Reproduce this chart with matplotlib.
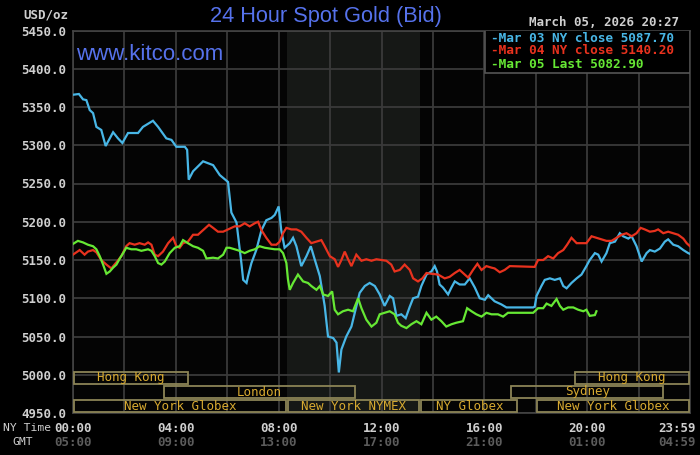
import matplotlib
matplotlib.use("Agg")
import matplotlib.pyplot as plt
from matplotlib.patches import Rectangle
import matplotlib.transforms as mtransforms

# ---------------- data ----------------
mar03_hours = [0.0, 0.23, 0.39, 0.52, 0.65, 0.78, 0.91, 1.10, 1.27, 1.56, 1.75, 1.92, 2.14, 2.53, 2.72,
               3.11, 3.31, 3.63, 3.83, 4.02, 4.35, 4.44, 4.50, 4.67, 5.06, 5.45, 5.71, 6.03,
               6.16, 6.36, 6.55, 6.62, 6.75, 6.81, 6.94, 7.13, 7.33, 7.52, 7.72, 7.85, 8.00, 8.10,
               8.23, 8.43, 8.56, 8.69, 8.88, 9.08, 9.25, 9.40, 9.60, 9.79, 9.92, 10.12, 10.25, 10.34,
               10.44, 10.63, 10.83, 10.96, 11.15, 11.35, 11.54, 11.74, 11.93,
               12.12, 12.32, 12.45, 12.58, 12.77, 12.94, 13.10, 13.23, 13.42, 13.55, 13.75, 13.94,
               14.07, 14.16, 14.26, 14.39, 14.59, 14.72, 14.85, 15.04, 15.24, 15.43, 15.63, 15.82,
               16.02, 16.15, 16.40, 16.66, 16.86, 17.90,
               17.96, 18.03, 18.22, 18.35, 18.55, 18.74, 18.94, 19.07, 19.20, 19.39, 19.59, 19.78,
               19.97, 20.10, 20.30, 20.43, 20.56, 20.75, 20.88, 21.08, 21.27, 21.40, 21.60, 21.73,
               21.92, 22.12, 22.31, 22.44, 22.63, 22.83, 23.02, 23.15, 23.35, 23.54, 23.74, 23.93, 24.0]
mar03_price = [5366, 5367, 5360, 5359, 5346, 5342, 5324, 5320, 5299, 5317, 5309, 5303, 5316, 5316, 5324,
               5332, 5324, 5309, 5307, 5298, 5298, 5294, 5255, 5266, 5279, 5274, 5261, 5252,
               5212, 5199, 5146, 5124, 5120, 5129, 5146, 5163, 5189, 5202, 5205, 5209, 5220, 5189,
               5166, 5172, 5179, 5168, 5142, 5155, 5168, 5151, 5129, 5090, 5050, 5048, 5042, 5003,
               5033, 5050, 5063, 5081, 5107, 5116, 5120, 5116, 5105,
               5090, 5103, 5100, 5077, 5079, 5074, 5089, 5100, 5102, 5116, 5131, 5135,
               5142, 5135, 5118, 5114, 5105, 5114, 5122, 5118, 5118, 5126, 5114, 5100,
               5098, 5104, 5096, 5092, 5088, 5088,
               5089, 5103, 5116, 5124, 5126, 5124, 5126, 5116, 5113, 5120, 5126, 5131,
               5142, 5150, 5159, 5157, 5148, 5159, 5172, 5174, 5185, 5181, 5178, 5181,
               5168, 5148, 5159, 5163, 5161, 5165, 5174, 5177, 5170, 5168, 5163, 5159, 5158]

mar04_hours = [0.0, 0.13, 0.26, 0.45, 0.58, 0.78, 0.91, 1.10, 1.30, 1.49, 1.69, 1.88, 2.07, 2.20, 2.40,
               2.59, 2.79, 2.92, 3.05, 3.18, 3.31, 3.50, 3.70, 3.89, 4.02, 4.15, 4.28, 4.47, 4.67,
               4.86, 5.06, 5.29, 5.45, 5.64, 5.84, 6.03,
               6.29, 6.48, 6.68, 6.87, 7.07, 7.20, 7.33, 7.52, 7.72, 7.91, 8.04, 8.17, 8.30, 8.49,
               8.69, 8.88, 9.08, 9.27, 9.47, 9.66, 9.79, 9.99, 10.18, 10.31, 10.44, 10.57, 10.70,
               10.83, 11.02, 11.22, 11.41, 11.61, 11.80, 12.00,
               12.19, 12.38, 12.51, 12.71, 12.90, 13.10, 13.23, 13.42, 13.59, 13.75, 13.94, 14.20,
               14.46, 14.65, 14.85, 15.04, 15.24, 15.37, 15.56, 15.73, 15.89, 16.08, 16.28, 16.40,
               16.60, 16.79, 16.99, 17.96,
               18.09, 18.29, 18.48, 18.68, 18.87, 19.07, 19.22, 19.39, 19.59, 19.78, 19.97, 20.17,
               20.36, 20.56, 20.75, 20.95, 21.14, 21.34, 21.53, 21.73, 21.92, 22.08, 22.24, 22.44,
               22.63, 22.76, 22.96, 23.15, 23.35, 23.54, 23.74, 23.87, 24.0]
mar04_price = [5157, 5160, 5163, 5157, 5161, 5163, 5160, 5150, 5144, 5139, 5147, 5155, 5168, 5172, 5170,
               5172, 5170, 5173, 5170, 5157, 5155, 5161, 5172, 5179, 5168, 5166, 5172, 5174, 5183,
               5183, 5189, 5196, 5192, 5187, 5187, 5190,
               5194, 5194, 5198, 5194, 5198, 5200, 5189, 5179, 5170, 5170, 5174, 5185, 5192, 5190,
               5190, 5187, 5179, 5172, 5174, 5176, 5168, 5155, 5151, 5141, 5150, 5161, 5151,
               5142, 5157, 5149, 5151, 5149, 5151, 5150,
               5149, 5144, 5135, 5137, 5144, 5137, 5126, 5122, 5126, 5133, 5132, 5131,
               5126, 5128, 5133, 5137, 5131, 5127, 5137, 5145, 5137, 5142, 5140, 5139,
               5134, 5137, 5142, 5141,
               5150, 5150, 5155, 5152, 5159, 5163, 5170, 5179, 5172, 5172, 5172, 5181,
               5179, 5177, 5175, 5175, 5179, 5183, 5185, 5181, 5185, 5192, 5190, 5187,
               5188, 5190, 5185, 5187, 5185, 5183, 5178, 5172, 5168]

mar05_hours = [0.0, 0.19, 0.39, 0.58, 0.78, 0.91, 1.04, 1.17, 1.30, 1.43, 1.56, 1.69, 1.82, 1.95, 2.07,
               2.27, 2.46, 2.66, 2.92, 3.05, 3.18, 3.31, 3.44, 3.57, 3.76, 3.96, 4.15, 4.28, 4.47,
               4.67, 4.86, 5.06, 5.19, 5.45, 5.64, 5.84, 5.97,
               6.09, 6.29, 6.48, 6.68, 6.87, 7.07, 7.26, 7.46, 7.65, 7.85, 8.04, 8.17, 8.30, 8.36,
               8.43, 8.56, 8.75, 8.95, 9.14, 9.27, 9.47, 9.60, 9.73, 9.92, 10.08, 10.18, 10.31,
               10.50, 10.70, 10.89, 11.09, 11.22, 11.41, 11.61, 11.80, 11.93,
               12.12, 12.32, 12.51, 12.64, 12.77, 12.97, 13.16, 13.36, 13.55, 13.75, 13.94, 14.13,
               14.33, 14.52, 14.72, 14.91, 15.17, 15.33, 15.50, 15.69, 15.89, 16.08, 16.28, 16.53,
               16.73, 16.92, 17.90,
               18.09, 18.29, 18.42, 18.61, 18.81, 18.94, 19.07, 19.26, 19.46, 19.65, 19.85, 19.97,
               20.10, 20.30, 20.36]
mar05_price = [5171, 5175, 5173, 5170, 5168, 5164, 5155, 5144, 5132, 5135, 5140, 5144, 5152, 5159, 5166,
               5164, 5164, 5162, 5164, 5162, 5155, 5146, 5144, 5148, 5159, 5166, 5168, 5176, 5172,
               5168, 5166, 5162, 5152, 5153, 5152, 5157, 5166,
               5166, 5164, 5162, 5159, 5162, 5164, 5168, 5166, 5165, 5164, 5164, 5159, 5146, 5125,
               5111, 5120, 5131, 5122, 5120, 5116, 5111, 5116, 5105, 5103, 5109, 5085, 5079,
               5083, 5085, 5083, 5100, 5087, 5072, 5063, 5068, 5079,
               5081, 5083, 5079, 5068, 5064, 5061, 5066, 5070, 5066, 5081, 5072, 5076,
               5070, 5063, 5066, 5068, 5070, 5087, 5083, 5079, 5076, 5081, 5079, 5079,
               5076, 5081, 5081,
               5087, 5087, 5093, 5090, 5099, 5090, 5085, 5088, 5088, 5085, 5083, 5085,
               5077, 5078, 5083]

series_labels = ["Mar 03 NY close", "Mar 04 NY close", "Mar 05 Last"]
series_values = ["5087.70", "5140.20", "5082.90"]
series_colors = ["#48b6e6", "#e8321e", "#66e834"]

y_ticks = [4950, 5000, 5050, 5100, 5150, 5200, 5250, 5300, 5350, 5400, 5450]
x_tick_pos = [0, 4, 8, 12, 16, 20, 24]
ny_labels = ["00:00", "04:00", "08:00", "12:00", "16:00", "20:00", "23:59"]
gmt_labels = ["05:00", "09:00", "13:00", "17:00", "21:00", "01:00", "04:59"]

session_names = ["Hong Kong", "London", "New York Globex", "New York NYMEX", "NY Globex",
                 "Sydney", "Hong Kong", "New York Globex"]
session_start = [0.0, 3.5, 0.0, 8.33, 13.5, 17.0, 19.5, 18.0]
session_end = [4.5, 11.0, 8.33, 13.5, 17.33, 23.0, 24.0, 24.0]
session_row = [2, 1, 0, 0, 0, 1, 2, 0]

nymex_start, nymex_end = 8.33, 13.5

# ---------------- figure ----------------
W, H = 700, 455
fig = plt.figure(figsize=(W / 100, H / 100), dpi=100, facecolor="black")
L, R, T, B = 73, 690, 30.5, 413
ax = fig.add_axes([L / W, 1 - B / H, (R - L) / W, (B - T) / H], facecolor="#040404")

mono = "DejaVu Sans Mono"
light = "#cfcfcf"

ax.set_xlim(0, 24)
ax.set_ylim(4950, 5450)
ax.set_xticks(list(range(0, 25, 2)))
ax.set_xticklabels([])
ax.set_yticks(y_ticks)
ax.set_yticklabels([f"{v:.1f}" for v in y_ticks], fontfamily=mono, fontweight="bold",
                   fontsize=9, color=light)
ax.tick_params(axis="both", length=0, pad=5)
ax.grid(True, color="#3a3a3a", linewidth=1.3, zorder=1)
ax.set_axisbelow(True)
for s in ax.spines.values():
    s.set_color("#444444")
    s.set_linewidth(1.2)

ax.axvspan(nymex_start, nymex_end, color="#161816", zorder=0.5, linewidth=0)

for hrs, vals, c in zip([mar03_hours, mar04_hours, mar05_hours],
                        [mar03_price, mar04_price, mar05_price], series_colors):
    ax.plot(hrs, vals, color=c, linewidth=1.6, zorder=3, solid_joinstyle="miter")

# sessions
btr = mtransforms.blended_transform_factory(ax.transData, ax.transAxes)
row_h = 14 / (B - T)
for name, s0, s1, r in zip(session_names, session_start, session_end, session_row):
    y0 = r * row_h
    ax.add_patch(Rectangle((s0 + 0.04, y0 + 0.002), s1 - s0 - 0.08, row_h - 0.004,
                           transform=btr, fill=False, edgecolor="#8c8456",
                           linewidth=1.3, zorder=4, clip_on=False))
    ax.text((s0 + s1) / 2, y0 + row_h / 2, name, transform=btr, ha="center", va="center",
            fontfamily=mono, fontsize=9, color="#d8aa30", zorder=5)

# legend box
lx0 = (485 - L) / (R - L)
ly0 = (B - 73) / (B - T)
ax.add_patch(Rectangle((lx0, ly0), 1 - lx0, 1 - ly0, transform=ax.transAxes,
                       facecolor="black", edgecolor="#555555", linewidth=1.2, zorder=6))
for i, (lab, val, c) in enumerate(zip(series_labels, series_values, series_colors)):
    ypix = 38 + 13 * i
    ax.text((491 - L) / (R - L), (B - ypix) / (B - T), f"-{lab} {val}", transform=ax.transAxes,
            ha="left", va="center", fontfamily=mono, fontweight="bold", fontsize=9.2,
            color=c, zorder=7)

# x labels (two rows)
for pos, ny, gmt in zip(x_tick_pos, ny_labels, gmt_labels):
    off = -13 if pos == 24 else 0
    tr = mtransforms.offset_copy(btr, fig=fig, x=off, y=0, units="dots")
    ax.text(pos, -(428 - B) / (B - T), ny, transform=tr, ha="center", va="center",
            fontfamily=mono, fontweight="bold", fontsize=9, color=light)
    ax.text(pos, -(442 - B) / (B - T), gmt, transform=tr, ha="center", va="center",
            fontfamily=mono, fontweight="bold", fontsize=9, color="#5c5c5c")

fig.text(51 / W, 1 - 428 / H, "NY Time", ha="right", va="center", fontfamily=mono,
         fontsize=8.2, color=light)
fig.text(33 / W, 1 - 442 / H, "GMT", ha="right", va="center", fontfamily=mono,
         fontsize=8.2, color=light)

# header texts
fig.text(68 / W, 1 - 14.5 / H, "USD/oz", ha="right", va="center", fontfamily=mono,
         fontweight="bold", fontsize=9, color=light)
fig.text(679 / W, 1 - 22 / H, "March 05, 2026 20:27", ha="right", va="center",
         fontfamily=mono, fontweight="bold", fontsize=9, color=light)
fig.text(326 / W, 1 - 16.5 / H, "24 Hour Spot Gold (Bid)", ha="center", va="center",
         fontfamily="Liberation Sans", fontsize=15.7, color="#5672ec")
fig.text(76 / W, 1 - 54 / H, "www.kitco.com", ha="left", va="center",
         fontfamily="Liberation Sans", fontsize=16, color="#5672ec", zorder=8)

fig.savefig("out.png", dpi=100, facecolor="black")
